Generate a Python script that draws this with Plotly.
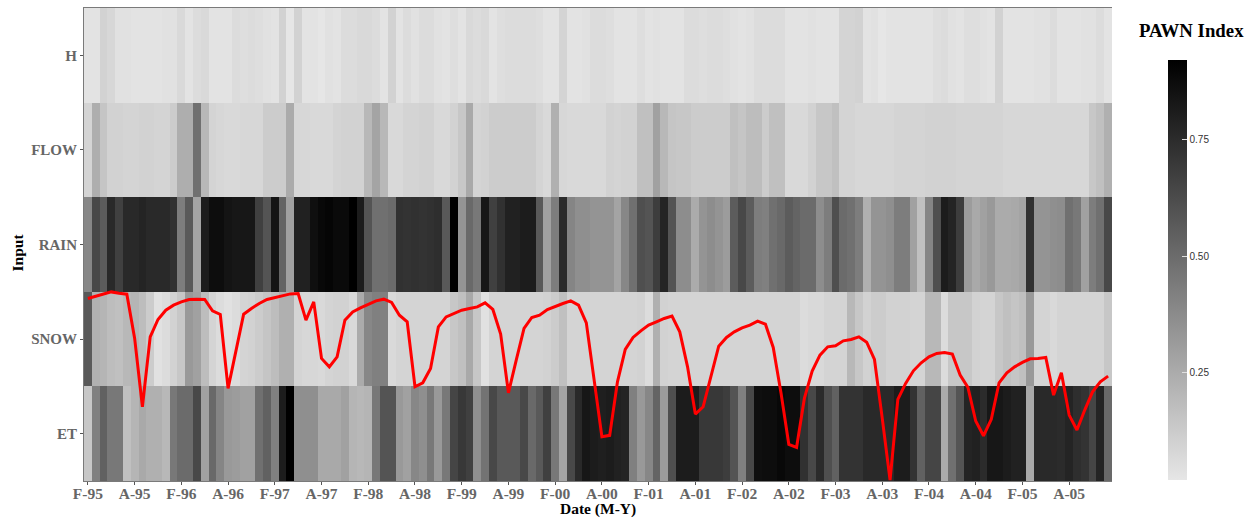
import plotly.graph_objects as go

inputs = ["ET", "SNOW", "RAIN", "FLOW", "H"]
tick_labels = ["F-95","A-95","F-96","A-96","F-97","A-97","F-98","A-98","F-99","A-99","F-00","A-00",
               "F-01","A-01","F-02","A-02","F-03","A-03","F-04","A-04","F-05","A-05"]
tick_positions = list(range(0, 132, 6))
months = list(range(132))

H = [.03,.03,.10,.08,.04,.04,.03,.03,.03,.03,.04,.04,.07,.03,.06,.07,.03,.03,.03,.06,.05,.06,.05,.04,.03,.10,.02,.10,.03,.03,.02,.04,.03,.06,.06,.07,.07,.06,.03,.10,.03,.06,.04,.06,.06,
     .04,.03,.05,.03,.07,.06,.07,.03,.05,.06,.06,.06,.06,.05,.03,.03,.09,.03,.03,.04,.06,.06,.05,.03,.03,.03,.05,.03,.04,.03,.03,.03,.06,.06,.05,.06,.06,.05,.04,.03,.04,.06,.06,.06,.06,
     .03,.03,.03,.04,.03,.03,.03,.09,.09,.10,.03,.04,.02,.03,.03,.03,.03,.03,.03,.05,.06,.04,.03,.05,.05,.04,.03,.10,.03,.03,.03,.03,.04,.04,.06,.03,.03,.03,.04,.04,.06,.03]
FLOW = [.09,.24,.15,.10,.10,.09,.09,.10,.10,.09,.09,.12,.24,.24,.48,.20,.09,.08,.07,.07,.08,.08,.08,.12,.12,.12,.25,.08,.08,.07,.07,.07,.09,.10,.10,.10,.20,.28,.20,.07,.07,.09,.09,.10,.10,
        .07,.07,.10,.14,.26,.09,.10,.12,.12,.12,.12,.12,.12,.09,.07,.23,.08,.07,.07,.07,.07,.07,.10,.09,.10,.10,.17,.17,.29,.20,.15,.14,.14,.12,.12,.12,.12,.12,.17,.15,.18,.18,.12,.17,.17,
        .07,.07,.07,.10,.14,.14,.17,.09,.09,.08,.08,.08,.08,.08,.09,.09,.09,.09,.10,.10,.10,.10,.09,.09,.09,.09,.09,.09,.08,.08,.08,.08,.08,.08,.08,.08,.08,.08,.08,.14,.17,.23]
RAIN = [.39,.64,.56,.76,.67,.76,.76,.78,.76,.76,.76,.73,.43,.57,.28,.81,.87,.87,.84,.83,.83,.83,.67,.59,.84,.53,.29,.79,.79,.86,.89,.90,.88,.88,.92,.81,.59,.48,.48,.50,.73,.72,.73,.72,.73,
        .74,.57,.92,.34,.51,.45,.83,.67,.73,.79,.79,.81,.81,.57,.29,.43,.75,.40,.36,.36,.34,.34,.34,.28,.39,.48,.61,.59,.68,.78,.59,.37,.37,.25,.34,.37,.34,.31,.56,.64,.56,.43,.42,.48,.51,
        .56,.53,.50,.50,.37,.43,.61,.50,.48,.43,.23,.34,.34,.36,.43,.43,.29,.17,.40,.61,.81,.78,.68,.31,.26,.29,.32,.25,.25,.26,.28,.73,.34,.34,.36,.37,.48,.45,.29,.43,.48,.64]
SNOW = [.57,.23,.21,.18,.17,.20,.21,.18,.12,.04,.06,.10,.14,.32,.29,.18,.09,.06,.04,.06,.09,.10,.12,.15,.18,.23,.23,.09,.08,.08,.07,.09,.10,.10,.07,.25,.39,.42,.42,.07,.09,.09,.09,.09,.09,
        .09,.09,.14,.17,.26,.14,.04,.09,.09,.09,.09,.09,.09,.09,.10,.12,.17,.09,.09,.09,.09,.09,.09,.09,.09,.09,.10,.06,.23,.10,.09,.09,.09,.09,.09,.09,.09,.09,.09,.09,.09,.09,.09,.09,.09,
        .09,.09,.06,.07,.07,.09,.09,.09,.20,.14,.10,.12,.12,.10,.10,.10,.09,.09,.20,.20,.06,.14,.14,.14,.10,.09,.09,.14,.17,.15,.17,.32,.09,.09,.07,.09,.09,.09,.09,.09,.09,.14]
ET = [.14,.42,.54,.45,.45,.17,.21,.26,.23,.23,.20,.45,.50,.50,.64,.29,.51,.40,.32,.31,.29,.29,.48,.54,.42,.81,.92,.36,.36,.36,.26,.26,.26,.29,.21,.20,.21,.45,.59,.59,.32,.29,.39,.36,.45,
      .32,.45,.65,.70,.67,.36,.47,.64,.57,.57,.57,.64,.51,.57,.67,.45,.28,.64,.76,.83,.81,.80,.81,.79,.78,.42,.32,.39,.53,.31,.61,.81,.81,.81,.70,.70,.70,.68,.59,.42,.64,.86,.87,.87,.89,
      .87,.87,.73,.64,.75,.61,.54,.72,.72,.72,.76,.76,.76,.76,.81,.81,.72,.54,.65,.65,.25,.48,.59,.78,.79,.75,.83,.83,.81,.79,.79,.26,.76,.76,.76,.75,.78,.74,.72,.65,.78,.51]

red_line = [182.7,185,187.7,189.3,188,187,143,74.3,144.3,161.7,171,176,179.3,181.7,182,181.7,170.3,166.7,92.7,131,167,172.7,177.7,181.7,183.7,185.7,187.3,187.7,161,179.3,122.7,114.3,124.3,161,169.3,173.3,177,180.3,182,178.7,166,159.3,94.3,98.3,112.7,
            154.3,164.3,167.7,171,172.7,174.3,178.3,171.7,147,88.3,121,152.7,163.7,166,171.7,175,177.7,180.3,176,158.3,101,44.3,45.7,99.3,131.7,143.7,150.3,156,159.3,162.7,165,149.3,114.3,67,74.3,104.3,135,143.7,149.3,153.3,156,160,157,133.7,88,
            36.7,33.7,82.7,110,126,134.3,135.3,140.3,141.7,144.3,139,121.7,62.7,1,81.7,97.7,110.3,118.3,124.3,127.7,128.7,127,106,93.7,60,45.3,61.7,98.3,108.3,114.3,118.7,122.3,122.7,123.7,86,108.3,66,51,71,89.3,99.3,105]

SERIF = "Liberation Serif"

fig = go.Figure()
fig.add_trace(go.Heatmap(
    z=[ET, SNOW, RAIN, FLOW, H], x=months, y=inputs,
    zmin=0.02, zmax=0.92,
    colorscale=[[0, "#e6e6e6"], [1, "#000000"]],
    xgap=0, ygap=0,
    colorbar=dict(
        thickness=19, thicknessmode="pixels", len=419.5, lenmode="pixels",
        x=1.054, xanchor="left", xpad=0, y=0.8898, yanchor="top", ypad=0,
        outlinewidth=0, tickvals=[0.25, 0.5, 0.75], ticktext=["0.25", "0.50", "0.75"],
        ticks="inside", ticklen=5, tickcolor="#e0e0e0", tickwidth=1,
        tickfont=dict(family="Liberation Sans", size=10, color="#333333"),
    ),
))
fig.add_trace(go.Scatter(
    x=months, y=red_line, mode="lines", yaxis="y2", showlegend=False,
    line=dict(color="#ff0000", width=3),
))
fig.update_layout(
    width=1256, height=520, autosize=False,
    margin=dict(l=84, r=143.5, t=7.5, b=39, autoexpand=False),
    paper_bgcolor="white", plot_bgcolor="white", showlegend=False,
    xaxis=dict(
        range=[-0.5, 131.5], tickmode="array", tickvals=tick_positions, ticktext=tick_labels,
        ticks="outside", ticklen=3, tickcolor="#555555", showgrid=False, zeroline=False,
        showline=True, linecolor="#7a7a7a", linewidth=1, mirror=True, automargin=False,
        ticklabelstandoff=-5,
        tickfont=dict(family=SERIF, size=15.5, color="#666666", weight=700),
    ),
    yaxis=dict(
        type="category", categoryorder="array", categoryarray=inputs,
        ticks="outside", ticklen=3, tickcolor="#555555", showgrid=False, zeroline=False,
        showline=True, linecolor="#7a7a7a", linewidth=1, automargin=False,
        tickfont=dict(family=SERIF, size=15, color="#666666", weight=700),
    ),
    yaxis2=dict(overlaying="y", range=[0, 473.5], visible=False),
    annotations=[
        dict(text="PAWN Index", xref="paper", yref="paper", x=1.0773, y=0.9525,
             xanchor="center", yanchor="middle", showarrow=False,
             font=dict(family=SERIF, size=18.8, color="black", weight=700)),
        dict(text="Date (M-Y)", xref="paper", yref="paper", x=0.5, y=-0.059,
             xanchor="center", yanchor="middle", showarrow=False,
             font=dict(family=SERIF, size=15.5, color="black", weight=700)),
        dict(text="Input", xref="paper", yref="paper", x=-0.0651, y=0.4834, textangle=-90,
             xanchor="center", yanchor="middle", showarrow=False,
             font=dict(family=SERIF, size=15.5, color="black", weight=700)),
    ],
)
fig.write_html("out.html", config={"displayModeBar": False},
               post_script="document.body.style.margin='0';document.documentElement.style.overflow='hidden';")
